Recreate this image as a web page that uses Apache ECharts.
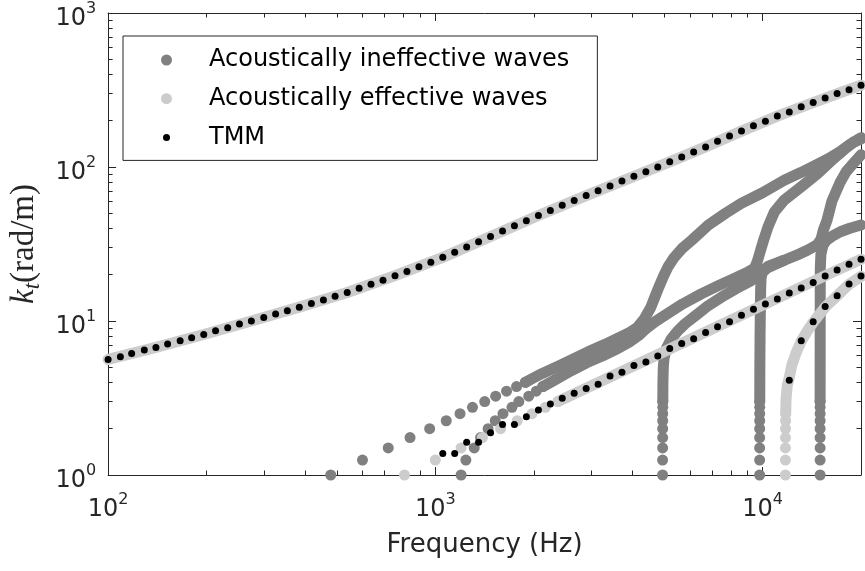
<!DOCTYPE html>
<html><head><meta charset="utf-8">
<script src="https://cdn.jsdelivr.net/npm/echarts@6/dist/echarts.min.js"></script>
<style>html,body{margin:0;padding:0;background:#fff}#c{width:865px;height:571px}</style>
</head><body><div id="c"></div>
<script>
// ---- axis ticks ----
const xMajorTicks = [100, 1000, 10000];
const xMinorTicks = [200,300,400,500,600,700,800,900,2000,3000,4000,5000,6000,7000,8000,9000,20000];
const yMajorTicks = [1, 10, 100, 1000];
const yMinorTicks = [2,3,4,5,6,7,8,9,20,30,40,50,60,70,80,90,200,300,400,500,600,700,800,900];

// ---- acoustically ineffective waves (gray) : discrete dots ----
const g1Dots = [[479,1],[599,1.25],[718,1.5],[837,1.75],[961,2],[1080,2.25],[1190,2.5],[1299,2.75],[1416,3],[1529,3.25],[1651,3.5],[1771,3.75],[1884,4]];
const g2Dots = [[1199,1],[1240,1.25],[1315,1.5],[1375,1.75],[1450,2],[1525,2.25],[1610,2.5],[1715,2.75],[1800,3],[1930,3.25],[2035,3.5],[2130,3.75]];
const v5Dots = [[4950,1],[4950,1.25],[4951,1.5],[4952,1.75],[4953,2],[4954,2.25],[4955,2.5],[4957,2.75],[4958,3]];
const v10Dots = [[9800,1],[9800,1.25],[9800,1.5],[9801,1.75],[9802,2],[9803,2.25],[9804,2.5],[9806,2.75],[9808,3]];
const v15Dots = [[15000,1],[15000,1.25],[15000,1.5],[15000,1.75],[15000,2],[15000,2.25],[15000,2.5],[15000,2.75],[15000,3]];
// ---- acoustically ineffective waves : dense bands ----
const g1Band = [[1884,4],[2000,4.28],[2115,4.55],[2400,5.15],[2700,5.8],[3000,6.45],[3300,7.05],[3600,7.7],[3900,8.35],[4150,9.1],[4350,10.3],[4550,12.2],[4700,14.5],[4826,16.7],[4980,19.5],[5150,22.6],[5350,25.6],[5700,29.8],[6081,33.5],[6833,42],[7700,50],[8610,58],[10000,68],[11650,82],[13090,92],[14690,104],[16000,114],[17290,126],[18500,140],[20000,155]];
const g2Band = [[2130,3.75],[2300,4.1],[2600,4.75],[2900,5.35],[3250,5.95],[3600,6.6],[3900,7.25],[4200,8.1],[4400,8.9],[4700,9.9],[5000,10.8],[5700,12.9],[6500,15.0],[7300,16.9],[8100,18.7],[9000,20.7],[9450,22.0],[9650,24.5],[9850,28.5],[10100,34],[10400,41],[10870,51],[11650,61],[13090,74],[14690,90],[16480,113],[18100,134],[19000,145],[20000,152]];
const v5Band = [[4958,3],[4962,4],[4975,5],[5000,5.7],[5080,6.6],[5250,7.6],[5500,8.6],[5800,9.6],[6300,11.0],[6830,12.6],[7500,14.3],[8300,16.2],[9236,18.3],[9800,20.0],[10380,22.2],[11650,24.8]];
const v10Band = [[9808,3],[9815,5],[9830,8],[9850,12],[9870,16],[9900,19],[10000,21],[10380,22.6],[11650,24.8],[13000,27.3],[13710,28.8],[14690,31.2],[15100,34],[15350,39],[15740,45],[16300,60],[17290,80],[18000,93],[18980,106],[20000,120]];
const v15Band = [[15000,3],[15005,8],[15010,15],[15020,22],[15080,27],[15300,31],[15700,33.5],[16500,36],[17290,38],[18500,40],[20000,42]];

// ---- acoustically effective waves (light gray) ----
const e1Band = [[100,5.63],[140,6.74],[196,8.18],[274,10.0],[384,12.3],[538,15.3],[753,19.7],[1054,25.9],[1475,35.4],[2066,48.4],[2891,65.2],[4046,87.0],[5205,108],[6700,135],[8625,171],[11100,214],[14284,262],[17500,307],[20000,340]];
const e2Dots = [[805,1],[1000,1.25],[1199,1.5],[1393,1.75],[1583,2],[1780,2.25],[1975,2.5],[2170,2.75],[2370,3]];
const e2Band = [[2370,3],[3160,4],[4740,6],[7900,10],[11850,15],[15800,20],[20000,25.2]];
const e3Dots = [[11750,1],[11750,1.25],[11752,1.5],[11755,1.75],[11760,2],[11765,2.25],[11775,2.5]];
const e3Band = [[11775,2.5],[11800,3.1],[11900,3.8],[12075,4.3],[12300,5.2],[12700,6.3],[13133,7.4],[13700,8.6],[14284,9.8],[15541,12.3],[16904,14.6],[18385,17.3],[20000,19.5]];

// ---- TMM (black) ----
const tmmFreq = [100,109,118,129,140,152,166,180,196,213,232,252,274,299,325,353,384,418,455,494,538,585,636,692,753,819,891,969,1054,1146,1247,1356,1475,1605,1745,1898,2066,2247,2443,2657,2891,3144,3420,3719,4046,4401,4786,5205,5664,6160,6700,7288,7930,8625,9382,10205,11100,12075,13133,14284,15541,16904,18385,20000];
const tmmTopK = [5.63,5.86,6.16,6.48,6.74,7.08,7.44,7.79,8.18,8.64,9.03,9.55,10.0,10.55,11.1,11.65,12.3,13.0,13.7,14.5,15.3,16.3,17.3,18.4,19.7,21.0,22.5,24.1,25.9,28.0,30.2,32.7,35.4,38.4,41.5,44.8,48.4,52.2,56.4,60.7,65.2,70.2,75.4,81.0,87.0,93.0,100,108,116,125,135,147,159,171,185,198,214,228,246,262,281,300,318,340];
const tmmMidK = [1.38,1.38,1.63,1.63,1.88,2.13,2.13,2.39,2.64,2.89,3.15,3.39,3.65,3.89,4.39,4.64,5.15,5.41,5.92,6.64,7.15,7.66,8.43,9.17,9.88,10.9,11.9,12.9,13.9,15.2,16.4,17.8,19.6,21.4,23.4,25.2];
const tmmLowK = [4.13,7.44,9.88,12.4,14.6,17.4,19.6];

const NAME_IN = 'Acoustically ineffective waves';
const NAME_EF = 'Acoustically effective waves';
const NAME_TMM = 'TMM';
const C_IN = '#808080', C_EF = '#cccccc', C_TMM = '#000000';
const AX = '#262626';

function dots(name, color, data, size, z) {
  return {type:'scatter', name, data, symbol:'circle', symbolSize:size, z,
    itemStyle:{color, opacity:1}, color, silent:true};
}
function band(name, color, data, z) {
  return {type:'line', name, data, symbol:'none', showSymbol:false, color, z,
    itemStyle:{color}, lineStyle:{color, width:11, cap:'round', join:'round'}, silent:true};
}

const supLabel = v => '{b|10}{s|' + Math.round(Math.log10(v)) + '}';
const labelRich = {
  b:{fontFamily:'DejaVu Sans', fontSize:24, lineHeight:36, color:AX},
  s:{fontFamily:'DejaVu Sans', fontSize:16, lineHeight:20, verticalAlign:'top', color:AX}
};

function xAx(pos, major, withLabel) {
  return {type:'log', logBase:10, min:100, max:20000, position:pos, gridIndex:0,
    axisLine:{show:major, lineStyle:{color:AX, width:1}},
    axisTick:{show:true, inside:true, length: major?8:4.5, customValues: major?xMajorTicks:xMinorTicks, lineStyle:{color:AX, width:1}},
    axisLabel: withLabel ? {show:true, customValues:xMajorTicks, formatter:supLabel, rich:labelRich, margin:17} : {show:false},
    splitLine:{show:false}, minorTick:{show:false},
    name: withLabel ? 'Frequency (Hz)' : '', nameLocation:'middle', nameGap:57,
    nameTextStyle:{fontFamily:'DejaVu Sans', fontSize:26, color:AX}
  };
}
function yAx(pos, major, withLabel) {
  return {type:'log', logBase:10, min:1, max:1000, position:pos, gridIndex:0,
    axisLine:{show:major, lineStyle:{color:AX, width:1}},
    axisTick:{show:true, inside:true, length: major?8:4.5, customValues: major?yMajorTicks:yMinorTicks, lineStyle:{color:AX, width:1}},
    axisLabel: withLabel ? {show:true, customValues:yMajorTicks, formatter:supLabel, rich:labelRich, margin:12, padding:[12,0,0,0]} : {show:false},
    splitLine:{show:false}, minorTick:{show:false},
    name: withLabel ? '{k|k}{t|t}{r|(rad/m)}' : '', nameLocation:'middle', nameGap:52, nameRotate:90,
    nameTextStyle:{rich:{
      k:{fontFamily:'Liberation Serif', fontStyle:'italic', fontSize:33, lineHeight:40, color:AX},
      t:{fontFamily:'Liberation Serif', fontStyle:'italic', fontSize:23, lineHeight:28, verticalAlign:'bottom', color:AX},
      r:{fontFamily:'Liberation Serif', fontSize:33, lineHeight:40, color:AX}
    }}
  };
}

const iconBig = 'path://M0,0M43,11M0,5.5A5.5,5.5,0,1,1,11,5.5A5.5,5.5,0,1,1,0,5.5Z';
const iconSmall = 'path://M0,0M43,11M2,5.5A3.5,3.5,0,1,1,9,5.5A3.5,3.5,0,1,1,2,5.5Z';

const option = {
  animation:false,
  backgroundColor:'#ffffff',
  grid:{left:100, right:4, top:13, bottom:96, show:false},
  legend:{
    orient:'vertical', left:123, top:36, z:20,
    padding:[9, 28, 8, 38], itemGap:8.7, itemWidth:43, itemHeight:11,
    borderColor:AX, borderWidth:1, backgroundColor:'#ffffff',
    selectedMode:false,
    textStyle:{fontFamily:'DejaVu Sans', fontSize:24, lineHeight:30, color:'#000'},
    data:[
      {name:NAME_IN, icon:iconBig},
      {name:NAME_EF, icon:iconBig},
      {name:NAME_TMM, icon:iconSmall}
    ]
  },
  xAxis:[xAx('bottom', true, true), xAx('bottom', false, false), xAx('top', true, false), xAx('top', false, false)],
  yAxis:[yAx('left', true, true), yAx('left', false, false), yAx('right', true, false), yAx('right', false, false)],
  series:[
    dots(NAME_IN, C_IN, [].concat(g1Dots, g2Dots, v5Dots, v10Dots, v15Dots), 11, 2),
    band(NAME_IN, C_IN, g1Band, 2),
    band(NAME_IN, C_IN, g2Band, 2),
    band(NAME_IN, C_IN, v5Band, 2),
    band(NAME_IN, C_IN, v10Band, 2),
    band(NAME_IN, C_IN, v15Band, 2),
    dots(NAME_EF, C_EF, [].concat(e2Dots, e3Dots), 11, 4),
    band(NAME_EF, C_EF, e1Band, 4),
    band(NAME_EF, C_EF, e2Band, 4),
    band(NAME_EF, C_EF, e3Band, 4),
    dots(NAME_TMM, C_TMM, tmmFreq.map((f,i)=>[f, tmmTopK[i]]), 7, 6),
    dots(NAME_TMM, C_TMM, tmmMidK.map((k,i)=>[tmmFreq[i+28], k]), 7, 6),
    dots(NAME_TMM, C_TMM, tmmLowK.map((k,i)=>[tmmFreq[i+57], k]), 7, 6)
  ]
};
const chart = echarts.init(document.getElementById('c'), null, {renderer:'canvas'});
chart.setOption(option);
</script>
</body></html>
